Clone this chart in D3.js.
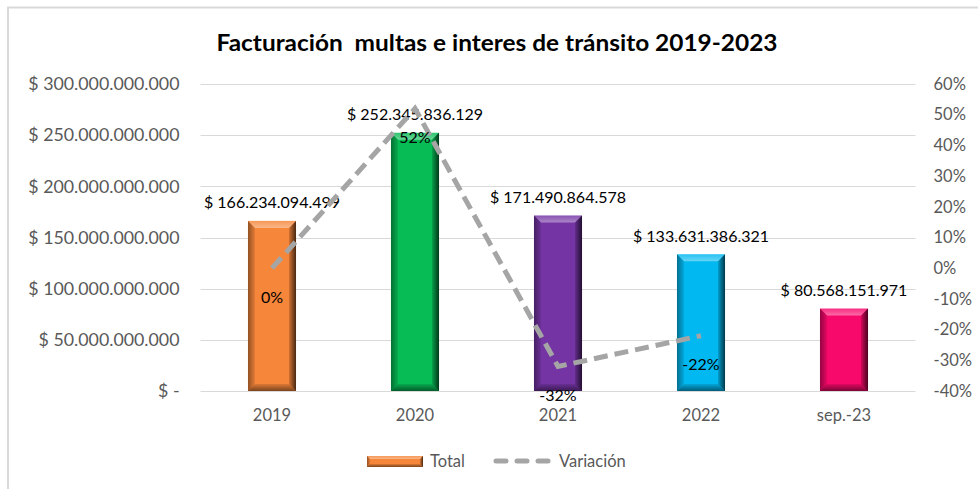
<!DOCTYPE html>
<html>
<head>
<meta charset="utf-8">
<script src="https://cdn.jsdelivr.net/npm/d3@7"></script>
<style>
  body { margin: 0; background: #fff; }
  text { font-family: Lato, "Open Sans", sans-serif; }
</style>
</head>
<body>
<div id="canvas"></div>
<script>
var categories = ["2019", "2020", "2021", "2022", "sep.-23"];
var totals = [166234094499, 252345836129, 171490864578, 133631386321, 80568151971];
var variation = [0, 0.52, -0.32, -0.22];
var barColors = ["#f5863a", "#07bb55", "#7434a4", "#02b8f0", "#f7086b"];
var leftTicks = [0, 50e9, 100e9, 150e9, 200e9, 250e9, 300e9];
var rightTicks = [-0.4, -0.3, -0.2, -0.1, 0, 0.1, 0.2, 0.3, 0.4, 0.5, 0.6];
var title = "Facturación  multas e interes de tránsito 2019-2023";

var width = 978, height = 489;
var plotLeft = 200.5, plotRight = 915.5, plotTop = 84, plotBottom = 391;

var locale = d3.formatLocale({ decimal: ",", thousands: ".", grouping: [3], currency: ["$ ", ""] });
var money = locale.format("$,.0f");

function moneyLabel(v) {
  return v === 0 ? "$ -" : money(v);
}

function pct(v) {
  return Math.round(v * 100) + "%";
}

var x = d3.scaleBand()
  .domain(categories)
  .range([plotLeft, plotRight])
  .paddingInner(0.664)
  .paddingOuter(0.332);

var y = d3.scaleLinear().domain([0, 300e9]).range([plotBottom, plotTop]);
var y2 = d3.scaleLinear().domain([-0.4, 0.6]).range([plotBottom, plotTop]);

var svg = d3.select("#canvas")
  .append("svg")
  .attr("width", width)
  .attr("height", height);

// bevel overlays
var defs = svg.append("defs");
function grad(id, x2, y2v, color, o1, o2) {
  var g = defs.append("linearGradient").attr("id", id)
    .attr("x1", 0).attr("y1", 0).attr("x2", x2).attr("y2", y2v);
  g.append("stop").attr("offset", 0).attr("stop-color", color).attr("stop-opacity", o1);
  g.append("stop").attr("offset", 1).attr("stop-color", color).attr("stop-opacity", o2);
}
grad("bvTop", 0, 1, "#fff", 0.15, 0.4);
grad("bvLeft", 1, 0, "#000", 0.4, 0.08);
grad("bvRight", 1, 0, "#000", 0.15, 0.7);
grad("bvBottom", 0, 1, "#000", 0.1, 0.5);

// chart frame
svg.append("rect")
  .attr("x", 8).attr("y", 7.5)
  .attr("width", width).attr("height", height)
  .attr("fill", "none")
  .attr("stroke", "#d9d9d9")
  .attr("stroke-width", 2);

svg.append("text")
  .attr("x", 497).attr("y", 42)
  .attr("text-anchor", "middle")
  .attr("dominant-baseline", "central")
  .style("white-space", "pre")
  .attr("font-size", 22.5)
  .attr("font-weight", "bold")
  .attr("textLength", 561)
  .attr("lengthAdjust", "spacingAndGlyphs")
  .attr("fill", "#000")
  .text(title);

// gridlines
svg.append("g")
  .selectAll("line")
  .data(leftTicks)
  .enter()
    .append("line")
    .attr("x1", plotLeft).attr("x2", plotRight)
    .attr("y1", function(d) { return Math.round(y(d)) + 0.5; })
    .attr("y2", function(d) { return Math.round(y(d)) + 0.5; })
    .attr("stroke", "#d9d9d9");

var leftAxis = svg.append("g")
  .attr("transform", "translate(" + plotLeft + ",0)")
  .call(d3.axisLeft(y).tickValues(leftTicks).tickFormat(moneyLabel).tickSize(0).tickPadding(21));

var rightAxis = svg.append("g")
  .attr("transform", "translate(" + plotRight + ",0)")
  .call(d3.axisRight(y2).tickValues(rightTicks).tickFormat(pct).tickSize(0).tickPadding(18));

var xAxis = svg.append("g")
  .attr("transform", "translate(0," + plotBottom + ")")
  .call(d3.axisBottom(x).tickSize(0).tickPadding(18));

[leftAxis, rightAxis, xAxis].forEach(function(a) {
  a.select(".domain").remove();
  a.selectAll("text")
    .attr("font-family", "Lato, sans-serif")
    .attr("font-size", a === leftAxis ? 17.8 : 16.5)
    .attr("fill", "#595959");
});

function bevel(g, x0, x1, y0, y1, color, b) {
  g.append("rect")
    .attr("x", x0).attr("y", y0)
    .attr("width", x1 - x0).attr("height", y1 - y0)
    .attr("fill", color);
  var parts = [
    ["bvTop", [[x0, y0], [x1, y0], [x1 - b, y0 + b], [x0 + b, y0 + b]]],
    ["bvLeft", [[x0, y0], [x0 + b, y0 + b], [x0 + b, y1 - b], [x0, y1]]],
    ["bvRight", [[x1 - b, y0 + b], [x1, y0], [x1, y1], [x1 - b, y1 - b]]],
    ["bvBottom", [[x0 + b, y1 - b], [x1 - b, y1 - b], [x1, y1], [x0, y1]]]
  ];
  parts.forEach(function(p) {
    g.append("polygon")
      .attr("points", p[1].map(function(pt) { return pt.join(","); }).join(" "))
      .attr("fill", "url(#" + p[0] + ")");
  });
}

var bars = svg.append("g")
  .selectAll("g")
  .data(totals)
  .enter()
    .append("g")
    .each(function(d, i) {
      var x0 = x(categories[i]);
      bevel(d3.select(this), x0, x0 + x.bandwidth(), y(d), y(0), barColors[i], 7);
    });

svg.append("g")
  .selectAll("text")
  .data(totals)
  .enter()
    .append("text")
    .attr("x", function(d, i) { return x(categories[i]) + x.bandwidth() / 2; })
    .attr("y", function(d) { return y(d) - 19; })
    .attr("text-anchor", "middle")
    .attr("dominant-baseline", "central")
    .attr("font-size", 16)
    .attr("fill", "#000")
    .text(moneyLabel);

// variation line
var line = d3.line()
  .x(function(d, i) { return x(categories[i]) + x.bandwidth() / 2; })
  .y(function(d) { return y2(d); });

svg.append("path")
  .datum(variation)
  .attr("d", line)
  .attr("fill", "none")
  .attr("stroke", "#a5a5a5")
  .attr("stroke-width", 5)
  .attr("stroke-dasharray", "14,7");

svg.append("g")
  .selectAll("text")
  .data(variation)
  .enter()
    .append("text")
    .attr("x", function(d, i) { return x(categories[i]) + x.bandwidth() / 2; })
    .attr("y", function(d) { return y2(d) + 28; })
    .attr("text-anchor", "middle")
    .attr("dominant-baseline", "central")
    .attr("font-size", 16)
    .attr("fill", "#000")
    .text(pct);

// legend
var legend = svg.append("g");
bevel(legend, 367, 423, 456, 467, barColors[0], 3);
legend.append("text")
  .attr("x", 430).attr("y", 461)
  .attr("dominant-baseline", "central")
  .attr("font-size", 16.5)
  .attr("fill", "#595959")
  .text("Total");
legend.append("line")
  .attr("x1", 496).attr("x2", 552)
  .attr("y1", 461).attr("y2", 461)
  .attr("stroke", "#a5a5a5")
  .attr("stroke-width", 5)
  .attr("stroke-linecap", "round")
  .attr("stroke-dasharray", "10,11");
legend.append("text")
  .attr("x", 559).attr("y", 461)
  .attr("dominant-baseline", "central")
  .attr("font-size", 16.5)
  .attr("fill", "#595959")
  .text("Variación");
</script>
</body>
</html>
